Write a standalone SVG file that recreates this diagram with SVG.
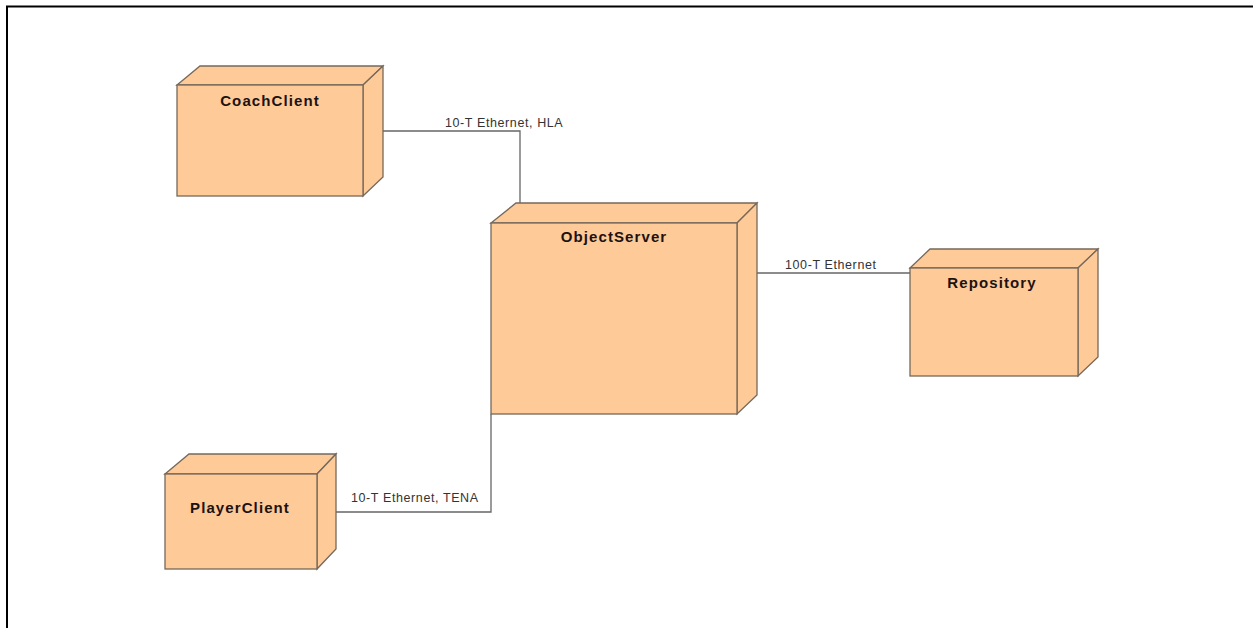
<svg xmlns="http://www.w3.org/2000/svg" width="1253" height="628" viewBox="0 0 1253 628">
<style>
.face{fill:#FECA98;stroke:#76685a;stroke-width:1.3;stroke-linejoin:miter}
.name{font-family:"Liberation Sans",Arial,sans-serif;font-weight:bold;font-size:15px;letter-spacing:1.1px;fill:#1c1212;text-anchor:middle}
.lbl{font-family:"Liberation Sans",Arial,sans-serif;font-size:12.5px;letter-spacing:0.6px;fill:#333}
.conn{fill:none;stroke:#666;stroke-width:1.3}
</style>
<rect width="1253" height="628" fill="#fff"/>
<path d="M7,628 V6.5 H1253" fill="none" stroke="#000" stroke-width="2"/>
<g id="connectors">
<polyline class="conn" points="363,131 520,131 520,203"/>
<polyline class="conn" points="757,273 910,273"/>
<polyline class="conn" points="336,512 491,512 491,414"/>
<text class="lbl" x="445" y="127">10-T Ethernet, HLA</text>
<text class="lbl" x="785" y="269">100-T Ethernet</text>
<text class="lbl" x="351" y="502">10-T Ethernet, TENA</text>
</g>
<g id="CoachClient">
<polygon class="face" points="177,85 200,66 383,66 363,85"/>
<polygon class="face" points="363,85 383,66 383,177 363,196"/>
<rect class="face" x="177" y="85" width="186" height="111"/>
<text class="name" x="270" y="106">CoachClient</text>
</g>
<g id="ObjectServer">
<polygon class="face" points="491,223 516,203 757,203 737,223"/>
<polygon class="face" points="737,223 757,203 757,395 737,414"/>
<rect class="face" x="491" y="223" width="246" height="191"/>
<text class="name" x="614" y="242">ObjectServer</text>
</g>
<g id="Repository">
<polygon class="face" points="910,268 930,249 1098,249 1078,268"/>
<polygon class="face" points="1078,268 1098,249 1098,357 1078,376"/>
<rect class="face" x="910" y="268" width="168" height="108"/>
<text class="name" x="992" y="288">Repository</text>
</g>
<g id="PlayerClient">
<polygon class="face" points="165,474 189,454 336,454 317,474"/>
<polygon class="face" points="317,474 336,454 336,549 317,569"/>
<rect class="face" x="165" y="474" width="152" height="95"/>
<text class="name" x="240" y="513">PlayerClient</text>
</g>
</svg>
